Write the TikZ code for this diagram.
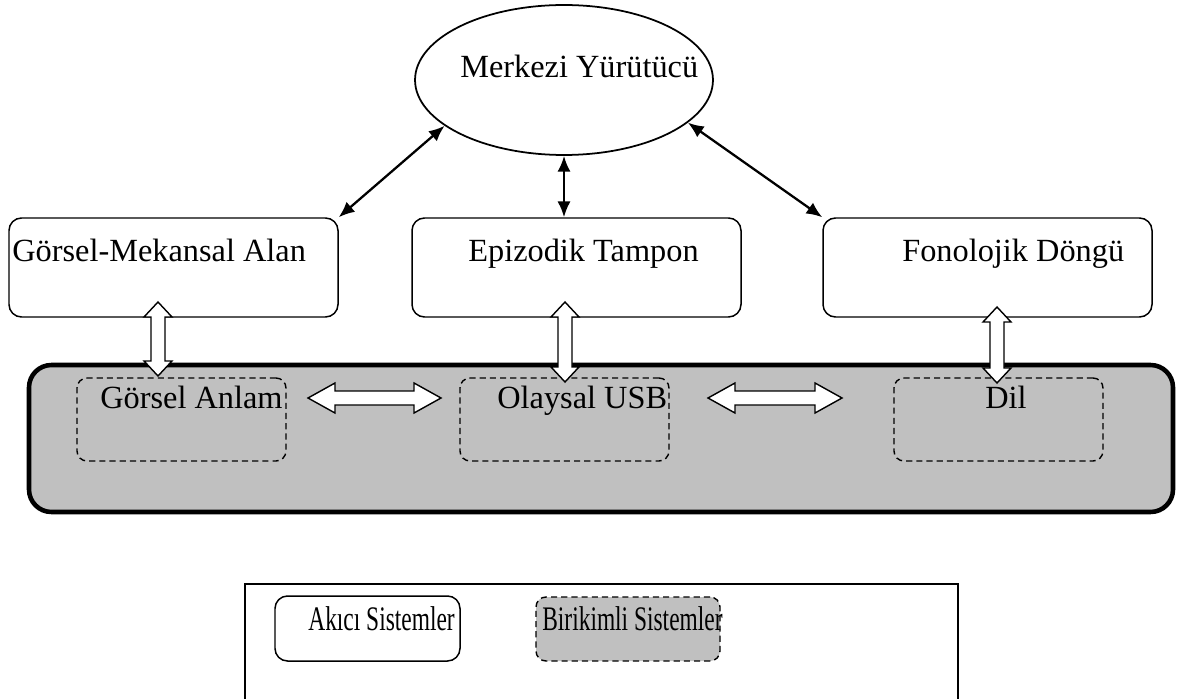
\documentclass[tikz,border=0pt]{standalone}
\usepackage{fontspec}
\setmainfont{Liberation Serif}
\usetikzlibrary{shapes.geometric,fit,arrows.meta}
\definecolor{ltm}{HTML}{C0C0C0}
\newcommand\vhollow[3]{\draw[hollow] (#1,#2) -- (#1+14,#2+15) -- (#1+7,#2+15) -- (#1+7,#3-15) -- (#1+14,#3-15) -- (#1,#3) -- (#1-14,#3-15) -- (#1-7,#3-15) -- (#1-7,#2+15) -- (#1-14,#2+15) -- cycle;}
\newcommand\hhollow[3]{\draw[hollow] (#2,#1) -- (#2+27,#1-15) -- (#2+27,#1-7) -- (#3-27,#1-7) -- (#3-27,#1-15) -- (#3,#1) -- (#3-27,#1+15) -- (#3-27,#1+7) -- (#2+27,#1+7) -- (#2+27,#1+15) -- cycle;}
\begin{document}
\begin{tikzpicture}[x=0.02cm,y=-0.02cm,
 box/.style={draw,line width=0.85pt,rounded corners=0.25cm,inner sep=0,fill=white},
 dbox/.style={draw,line width=0.8pt,dash pattern=on 3.5pt off 2.3pt,rounded corners=0.2cm,inner sep=0},
 lbl/.style={anchor=base west,inner sep=0,font=\fontsize{18.4}{22}\selectfont},
 lgd/.style={anchor=base west,inner sep=0,font=\fontsize{19.6}{22}\selectfont},
 conn/.style={line width=1.3pt,{Latex[length=9pt,width=7.5pt]}-{Latex[length=9pt,width=7.5pt]}},
 hollow/.style={draw,line width=0.8pt,fill=white,line join=miter}]
\useasboundingbox (0,0) rectangle (1180,699);
% central executive
\node[draw,ellipse,line width=1pt,minimum width=5.96cm,minimum height=3.0cm,inner sep=0] (M) at (564,80) {};
\node[lbl] (Mt) at (460,78) {Merkezi Yürütücü};
% fluid systems
\node[box,fit={(9,218)(338,317)}] (G) {};
\node[lbl] (Gt) at (12,262) {Görsel-Mekansal Alan};
\node[box,fit={(412,218)(741,317)}] (E) {};
\node[lbl] (Et) at (468,262) {Epizodik Tampon};
\node[box,fit={(823,218)(1152,317)}] (F) {};
\node[lbl] (Ft) at (902,262) {Fonolojik Döngü};
% crystallized systems
\node[draw,line width=2.6pt,fill=ltm,rounded corners=0.45cm,inner sep=0,fit={(29,365)(1173,512)}] (LTM) {};
\node[dbox,fit={(77,378)(286,461)}] (GA) {};
\node[lbl] (GAt) at (100,408) {Görsel Anlam};
\node[dbox,fit={(460,378)(669,461)}] (OU) {};
\node[lbl] (OUt) at (497,408) {Olaysal USB};
\node[dbox,fit={(894,378)(1103,461)}] (D) {};
\node[lbl] (Dt) at (985,408) {Dil};
% black arrows
\draw[conn] (M.201) -- (G.north east);
\draw[conn] (M.south) -- (M.south |- E.north);
\draw[conn] (M.-19) -- (F.north west);
% hollow arrows
\vhollow{158}{302}{376}
\vhollow{565}{302}{382}
\vhollow{997}{307}{383}
\hhollow{398}{308}{441}
\hhollow{398}{708}{842}
% legend
\draw[line width=0.9pt] (245,699) -- (245,584) -- (958,584) -- (958,699);
\node[box,fit={(275,596)(460,661)}] (AS) {};
\node[lgd] (ASt) at (308,630) {\scalebox{0.68}[1]{Akıcı Sistemler}};
\node[dbox,fill=ltm,fit={(536,597)(720,661)}] (BS) {};
\node[lgd] (BSt) at (542,630) {\scalebox{0.68}[1]{Birikimli Sistemler}};
\end{tikzpicture}
\end{document}
